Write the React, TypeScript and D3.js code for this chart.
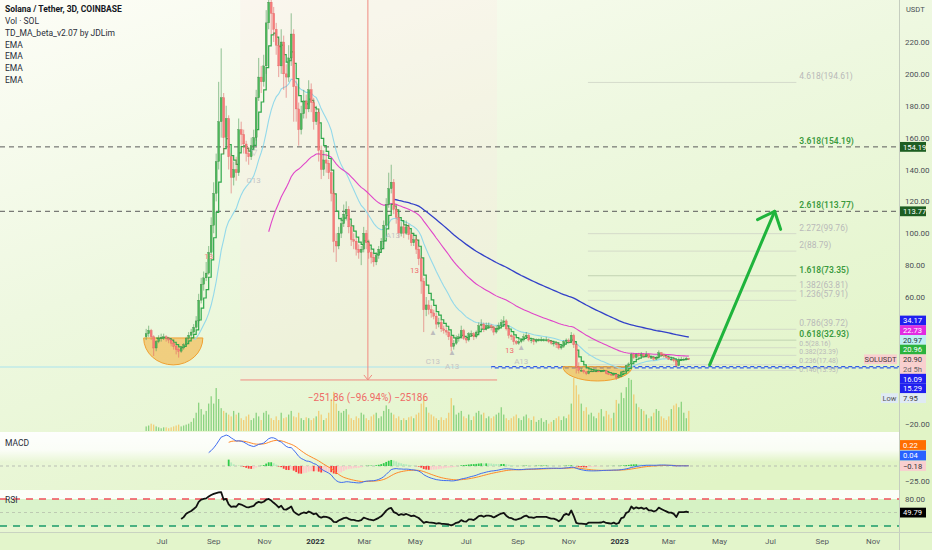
import { useEffect, useRef } from 'react'
import * as d3 from 'd3'

const W = 932
const H = 550
const AXIS_X = 899
const PRICE_BOTTOM = 431
const MACD_BOTTOM = 490
const RSI_BOTTOM = 532
const FONT = 'Roboto, "Noto Sans", sans-serif'

// 3D candles, first bar 2021-06-12
const BAR_START = Date.UTC(2021, 5, 12)
const FIRST_OPEN = 35

const closes = [
  37, 39, 35, 28, 32, 34, 34.5, 35, 34, 33, 31, 29, 27, 26, 28, 30, 34,
  36, 38, 41, 45, 58, 68, 72, 75, 88, 105,
  125, 145, 170, 185, 160, 172, 148, 135, 140, 138,
  165, 162, 156, 150, 148, 155, 160, 185, 198, 195,
  205, 232, 245, 238, 228, 218, 205, 220, 200, 198,
  210, 225, 192, 178, 165, 175, 183, 178, 190, 182, 170,
  176, 152, 140, 146, 144, 138, 125, 95, 92, 100,
  106, 112, 115, 104, 96, 95, 90, 88, 90, 100,
  94, 88, 85, 82, 86, 90, 95, 105, 118, 128,
  132, 115, 110, 100, 104, 100, 104, 99, 94, 96,
  90, 84, 70, 52, 55, 52, 50, 48, 43, 44,
  40, 39, 38, 35, 29, 31, 34, 35, 39, 34,
  33, 37, 37, 35, 38, 42, 43, 40, 42, 42,
  41, 38, 40, 42, 44, 45, 40, 36, 35, 32, 31,
  32, 33, 35, 36, 33, 33, 32, 33, 33, 33,
  33, 33, 32, 31, 31, 30, 28, 29, 32, 33,
  32, 36, 30, 16, 14, 14, 13, 12, 13.5, 13.5,
  13.5, 13.5, 13.4, 13.5, 14, 12, 11.5, 11, 11.5, 9.5,
  10, 13, 13.5, 17, 18, 24, 22, 24, 23, 24, 23,
  24, 22, 22, 21, 22, 25, 24, 23, 22,
  21, 21, 20, 17, 21, 21, 21, 21.5, 20.9,
]

const highs = [
  40, 42, 40, 36, 33, 36, 37, 37, 36, 35, 34, 32, 30, 28, 29, 31, 35,
  38, 40, 43, 48, 62, 72, 76, 82, 92, 110,
  132, 150, 195, 216, 188, 180, 174, 150, 145, 148,
  172, 170, 165, 158, 154, 160, 165, 190, 210, 205,
  212, 240, 260, 252, 242, 232, 222, 228, 224, 206,
  218, 238, 228, 196, 182, 180, 190, 187, 196, 194, 185,
  180, 178, 155, 152, 150, 146, 140, 127, 100, 104,
  110, 118, 120, 117, 106, 100, 97, 93, 92, 104,
  102, 96, 90, 87, 88, 92, 97, 108, 122, 138,
  143, 134, 118, 112, 107, 106, 108, 106, 101, 100,
  98, 92, 86, 72, 60, 58, 55, 52, 50, 47,
  46, 42, 41, 39, 36, 33, 36, 37, 42, 40,
  35, 38, 39, 38, 39, 44, 46, 44, 44, 44,
  43, 42, 42, 44, 46, 48, 46, 41, 37, 36, 33,
  33, 34, 37, 38, 37, 34, 34, 34, 34, 35,
  34, 35, 34, 33, 32, 32, 31, 30, 33, 34,
  34, 38, 37, 31, 19, 15.5, 14.5, 13.5, 14, 14.5,
  14.5, 14, 14, 14, 14.5, 14.2, 12.5, 12, 12, 11.7,
  10.5, 13.5, 14, 17.5, 19, 25, 24.5, 24.5, 25, 25.5, 24.5,
  26, 24.5, 23, 22.5, 23, 26.5, 25.5, 24.5, 23.5,
  22.5, 22, 21.5, 20.5, 22, 22.5, 22, 22.5, 21.8,
]

const lows = [
  33, 35, 33, 23, 26, 31, 32, 33, 32, 31, 29, 27, 24, 22, 25, 27, 29,
  33, 35, 37, 40, 44, 56, 64, 70, 74, 86,
  100, 120, 140, 160, 150, 155, 140, 125, 130, 133,
  136, 155, 150, 145, 143, 146, 152, 158, 183, 188,
  192, 200, 228, 225, 220, 212, 198, 200, 190, 185,
  195, 205, 170, 170, 155, 162, 172, 172, 176, 176, 165,
  168, 145, 134, 136, 138, 134, 120, 88, 82, 90,
  97, 104, 108, 100, 92, 90, 86, 84, 80, 88,
  90, 84, 81, 79, 80, 84, 88, 93, 103, 116,
  125, 112, 106, 97, 98, 97, 99, 96, 92, 92,
  87, 80, 62, 38, 48, 49, 47, 46, 40, 41,
  38, 37, 36, 33, 26, 27, 30, 32, 34, 33,
  31, 32, 35, 33, 34, 37, 40, 38, 39, 40,
  39, 36, 37, 39, 41, 42, 39, 34, 33, 30, 30,
  30, 31, 32, 34, 32, 31, 30, 31, 32, 32,
  32, 32, 31, 30, 29, 28, 27, 27, 28, 31,
  31, 31, 28, 12, 12, 13, 12, 11, 11.5, 13,
  13, 13, 13, 13, 13, 11.5, 11, 10.5, 10.8, 7.95,
  9, 9.8, 12.8, 13.3, 16, 17.8, 21, 21.5, 22.5, 22.5, 22,
  22.5, 21.5, 21.5, 20, 20.5, 21.5, 23, 22, 21.5,
  20.5, 20, 19, 16, 16.5, 20.5, 20, 20.5, 20.5,
]

const volumes = [
  5, 6, 8, 7, 5, 4, 3, 4, 4, 3, 4, 5, 6, 7, 5, 6, 7,
  8, 10, 14, 20, 31, 24, 18, 22, 30, 38,
  30, 47, 35, 25, 22, 20, 18, 16, 22, 18,
  20, 14, 12, 16, 18, 12, 14, 20, 16, 12,
  20, 22, 18, 14, 12, 16, 12, 20, 14, 15,
  18, 22, 16, 15, 20, 14, 12, 15, 14, 12, 14,
  16, 22, 18, 12, 14, 20, 35, 43, 30, 22,
  20, 22, 24, 18, 14, 12, 16, 14, 20, 18,
  14, 12, 16, 18, 20, 14, 16, 22, 28, 24,
  20, 18, 14, 16, 12, 14, 12, 15, 16, 14,
  18, 20, 30, 38, 26, 20, 18, 16, 14, 12,
  15, 12, 14, 20, 36, 28, 18, 20, 22, 16,
  14, 18, 12, 16, 20, 22, 18, 20, 14, 16,
  14, 16, 18, 20, 26, 18, 14, 12, 14, 16, 18,
  14, 12, 16, 18, 14, 12, 16, 10, 12, 14,
  10, 12, 8, 10, 12, 14, 16, 12, 16, 14,
  18, 30, 58, 50, 40, 30, 22, 26, 18, 20,
  16, 14, 20, 24, 16, 22, 18, 14, 20, 34,
  30, 42, 36, 48, 58, 56, 40, 30, 26, 24, 22,
  18, 14, 16, 20, 24, 22, 16, 14, 12,
  16, 24, 28, 30, 26, 32, 20, 14, 22,
]

const priceTicks = [220, 200, 180, 160, 140, 120, 100, 80, 60]

const fibLevels = ['4.618', '3.618', '2.618', '2.272', '2', '1.618', '1.382', '1.236', '0.786', '0.618', '0.5', '0.382', '0.236', '0.146']
const fibPrices = [194.61, 154.19, 113.77, 99.76, 88.79, 73.35, 63.81, 57.91, 39.72, 32.93, 28.16, 23.39, 17.48, 13.93]
const fibGreen = ['3.618', '2.618', '1.618', '0.618']
const fibSpan = ['2022-11-24', '2023-08-01']

const dashedLevels = [154.19, 113.77]

// measurement tool: start, arrow, end dates; high and low price
const measureDates = ['2021-10-03', '2022-03-05', '2022-08-07']
const measurePrices = [259.81, 7.95]
const measureText = '\u2212251.86 (\u221296.94%) \u221225186'

const arrowFrom = { date: '2023-04-19', price: 17.4 }
const arrowTo = { date: '2023-07-06', price: 113.77 }

const bowls = [
  { from: '2021-06-09', to: '2021-08-19', top: 34.3, bottom: 17.4 },
  { from: '2022-10-25', to: '2023-01-16', top: 16.3, bottom: 7.3 },
]

const supportSplit = '2022-07-31'
const supportLevels = [16.09, 15.29]

const tdMarks = [
  { date: '2021-08-26', price: 84, text: '13', color: '#f08080' },
  { date: '2021-10-19', price: 149, text: '\u25BD', color: '#bdbdbd' },
  { date: '2021-10-19', price: 131.5, text: 'C13', color: '#c4c4c4' },
  { date: '2022-04-04', price: 97, text: 'A13', color: '#c4c4c4' },
  { date: '2022-04-30', price: 75, text: '13', color: '#f07070' },
  { date: '2022-05-22', price: 36, text: '\u25B2', color: '#bdbdbd' },
  { date: '2022-05-22', price: 18, text: 'C13', color: '#c4c4c4' },
  { date: '2022-06-14', price: 23.6, text: '\u25B2', color: '#bdbdbd' },
  { date: '2022-06-14', price: 14.9, text: 'A13', color: '#c4c4c4' },
  { date: '2022-08-22', price: 25, text: '13', color: '#f07070' },
  { date: '2022-09-05', price: 26.8, text: '\u25B2', color: '#bdbdbd' },
  { date: '2022-09-05', price: 18, text: 'A13', color: '#c4c4c4' },
]

const legendLines = ['Vol \u00B7 SOL', 'TD_MA_beta_v2.07 by JDLim', 'EMA', 'EMA', 'EMA', 'EMA']

const priceTags = [
  { text: '34.17', bg: '#1f1ff0', fg: '#ffffff' },
  { text: '22.73', bg: '#e22ce2', fg: '#ffffff' },
  { text: '20.97', bg: '#bfeef2', fg: '#20383c' },
  { text: '20.96', bg: '#2bb33d', fg: '#ffffff' },
  { text: '20.90', bg: '#f9cfcf', fg: '#333333' },
  { text: '2d 5h', bg: '#f9cfcf', fg: '#666666' },
  { text: '16.09', bg: '#1f1ff0', fg: '#ffffff' },
  { text: '15.29', bg: '#1f1ff0', fg: '#ffffff' },
  { text: '7.95', bg: '#dfeaf4', fg: '#333333' },
]
const lastPrice = 20.9
const macdTags = [
  { text: '0.22', bg: '#ff6d00', fg: '#ffffff' },
  { text: '0.04', bg: '#2962ff', fg: '#ffffff' },
  { text: '\u22120.18', bg: '#f9cfcf', fg: '#333333' },
]
const rsiLast = 49.79

const day = (s: string) => new Date(s + 'T00:00:00Z')

function ema(values: number[], n: number): (number | null)[] {
  const out: (number | null)[] = []
  const k = 2 / (n + 1)
  let prev: number | null = null
  values.forEach((v, i) => {
    if (i < n - 1) { out.push(null); return }
    if (prev === null) prev = d3.mean(values.slice(i - n + 1, i + 1)) as number
    else prev = v * k + prev * (1 - k)
    out.push(prev)
  })
  return out
}

function emaSparse(values: (number | null)[], n: number): (number | null)[] {
  const start = values.findIndex(v => v !== null)
  const tail = ema(values.slice(start) as number[], n)
  return values.slice(0, start).map(() => null as number | null).concat(tail)
}

function rsi(values: number[], n: number): (number | null)[] {
  const out: (number | null)[] = [null]
  let ag = 0, al = 0
  for (let i = 1; i < values.length; i++) {
    const ch = values[i] - values[i - 1]
    const g = Math.max(ch, 0), l = Math.max(-ch, 0)
    if (i <= n) {
      ag += g / n; al += l / n
      out.push(i === n ? 100 - 100 / (1 + ag / (al || 1e-9)) : null)
    } else {
      ag = (ag * (n - 1) + g) / n
      al = (al * (n - 1) + l) / n
      out.push(100 - 100 / (1 + ag / (al || 1e-9)))
    }
  }
  return out
}

export default function App() {
  const svgRef = useRef<SVGSVGElement>(null)

  useEffect(() => {
    if (!svgRef.current) return
    const svg = d3.select(svgRef.current)
    svg.selectAll('*').remove()

    const dates = closes.map((_, i) => new Date(BAR_START + i * 3 * 864e5))
    const opens = closes.map((_, i) => (i === 0 ? FIRST_OPEN : closes[i - 1]))

    const x = d3.scaleUtc().domain([day('2021-07-01'), day('2023-11-01')]).range([162, 873])
    const y = d3.scaleLinear().domain([60, 220]).range([297, 42])
    const volY = d3.scaleLinear().domain([0, 58]).range([PRICE_BOTTOM, 378])
    const rsiY = d3.scaleLinear().domain([20, 80]).range([526, 499])

    const defs = svg.append('defs')
    const bg = defs.append('linearGradient').attr('id', 'bg')
      .attr('x1', 0).attr('y1', 0).attr('x2', 0.55).attr('y2', 1)
    bg.append('stop').attr('offset', 0).attr('stop-color', '#fdfdf7')
    bg.append('stop').attr('offset', 0.45).attr('stop-color', '#eef8e0')
    bg.append('stop').attr('offset', 1).attr('stop-color', '#e1f4c6')
    const fade = defs.append('linearGradient').attr('id', 'fade')
      .attr('x1', 0).attr('y1', 0).attr('x2', 0).attr('y2', 1)
    fade.append('stop').attr('offset', 0).attr('stop-color', '#ffffff').attr('stop-opacity', 0.95)
    fade.append('stop').attr('offset', 0.6).attr('stop-color', '#ffffff').attr('stop-opacity', 0.8)
    fade.append('stop').attr('offset', 1).attr('stop-color', '#ffffff').attr('stop-opacity', 0)
    defs.append('clipPath').attr('id', 'pricePane')
      .append('rect').attr('x', 0).attr('y', 0).attr('width', AXIS_X).attr('height', PRICE_BOTTOM)
    defs.append('clipPath').attr('id', 'macdPane')
      .append('rect').attr('x', 0).attr('y', PRICE_BOTTOM).attr('width', AXIS_X).attr('height', MACD_BOTTOM - PRICE_BOTTOM)

    // backgrounds
    svg.append('rect').attr('width', W).attr('height', H).attr('fill', 'url(#bg)')
    svg.append('rect').attr('x', 0).attr('y', RSI_BOTTOM).attr('width', W).attr('height', H - RSI_BOTTOM).attr('fill', '#e3f5cb')
    svg.append('rect')
      .attr('x', x(day(measureDates[0]))).attr('y', 0)
      .attr('width', x(day(measureDates[2])) - x(day(measureDates[0])))
      .attr('height', y(measurePrices[1]))
      .attr('fill', '#ffe4e4').attr('opacity', 0.22)
    svg.append('rect').attr('x', 0).attr('y', PRICE_BOTTOM + 1).attr('width', AXIS_X).attr('height', 30).attr('fill', 'url(#fade)')
    svg.append('rect').attr('x', 0).attr('y', MACD_BOTTOM).attr('width', AXIS_X).attr('height', 9).attr('fill', '#ffffff').attr('opacity', 0.85)
    svg.append('rect').attr('x', 0).attr('y', rsiY(80)).attr('width', AXIS_X).attr('height', rsiY(20) - rsiY(80))
      .attr('fill', '#c9f0c0').attr('opacity', 0.45)

    const price = svg.append('g').attr('clip-path', 'url(#pricePane)')

    // user horizontal lines
    dashedLevels.forEach(p => {
      price.append('line').attr('x1', 0).attr('x2', AXIS_X).attr('y1', y(p)).attr('y2', y(p))
        .attr('stroke', '#5a5a5a').attr('stroke-width', 1).attr('stroke-dasharray', '5,4')
    })
    price.append('line').attr('x1', 0).attr('x2', x(day(supportSplit)))
      .attr('y1', y(supportLevels[0])).attr('y2', y(supportLevels[0]))
      .attr('stroke', '#a9e4ee').attr('stroke-width', 1.2)
    supportLevels.forEach((p, k) => {
      price.append('line').attr('x1', x(day(supportSplit))).attr('x2', AXIS_X)
        .attr('y1', y(p) - 0.4).attr('y2', y(p) - 0.4)
        .attr('stroke', '#2f5be8').attr('stroke-width', 1.2)
        .attr('stroke-dasharray', '4,3').attr('stroke-dashoffset', k * 3.5)
    })

    // fib extension
    const fx0 = x(day(fibSpan[0])), fx1 = x(day(fibSpan[1]))
    fibPrices.forEach((p, k) => {
      const green = fibGreen.includes(fibLevels[k])
      if (!dashedLevels.includes(p)) {
        price.append('line').attr('x1', fx0).attr('x2', fx1).attr('y1', y(p)).attr('y2', y(p))
          .attr('stroke', green ? '#b9c9a9' : '#cfd4c6').attr('stroke-width', 0.8)
      }
      const small = p < 30
      const last = k === fibPrices.length - 1
      price.append('text').attr('x', fx1 + 3).attr('y', last ? y(p) + 1.5 : y(p) - (small ? 1.5 : 3))
        .attr('font-family', FONT).attr('font-size', small ? 6.8 : 8.5)
        .attr('font-weight', green ? 600 : 400)
        .attr('fill', green ? '#3b9a3e' : '#b9b9b9')
        .text(`${fibLevels[k]}(${p.toFixed(2)})`)
    })

    // measurement tool
    const mx = measureDates.map(d => x(day(d)))
    const mBottom = y(measurePrices[1])
    price.append('line').attr('x1', mx[0]).attr('x2', mx[2]).attr('y1', mBottom).attr('y2', mBottom)
      .attr('stroke', '#f08a80').attr('stroke-width', 1)
    price.append('line').attr('x1', mx[1]).attr('x2', mx[1]).attr('y1', y(measurePrices[0])).attr('y2', mBottom)
      .attr('stroke', '#f08a80').attr('stroke-width', 1)
    price.append('path')
      .attr('d', `M${mx[1] - 4},${mBottom - 5} L${mx[1]},${mBottom} L${mx[1] + 4},${mBottom - 5}`)
      .attr('fill', 'none').attr('stroke', '#f08a80').attr('stroke-width', 1)

    // orange bowls
    bowls.forEach(b => {
      const x0 = x(day(b.from)), x1 = x(day(b.to))
      const yt = y(b.top), yb = y(b.bottom)
      price.append('path')
        .attr('d', `M${x0},${yt} A${(x1 - x0) / 2},${yb - yt} 0 0 0 ${x1},${yt} Z`)
        .attr('fill', '#f5a623').attr('fill-opacity', 0.5)
        .attr('stroke', '#f0a030').attr('stroke-width', 1)
    })

    // volume
    price.append('g').selectAll('rect').data(volumes).join('rect')
      .attr('x', (_, i) => x(dates[i]) - 0.6).attr('width', 1.2)
      .attr('y', v => volY(v)).attr('height', v => PRICE_BOTTOM - volY(v))
      .attr('fill', (_, i) => (closes[i] >= opens[i] ? '#72c96a' : '#f3c35e'))
      .attr('opacity', 0.85)

    // moving averages
    const lineOf = (vals: (number | null)[]) => d3.line<number | null>()
      .defined(v => v !== null)
      .x((_, i) => x(dates[i]))
      .y(v => y(v as number))(vals)
    const ema20 = ema(closes, 20)
    const ema50 = ema(closes, 50)
    const ema100 = ema(closes, 100)
    const tdma = ema(closes, 5)
    price.append('path').attr('d', lineOf(ema20)).attr('fill', 'none').attr('stroke', '#93d9ea').attr('stroke-width', 1.1)
    price.append('path').attr('d', lineOf(ema50)).attr('fill', 'none').attr('stroke', '#e045c9').attr('stroke-width', 1.1)
    price.append('path').attr('d', lineOf(ema100)).attr('fill', 'none').attr('stroke', '#3240c8').attr('stroke-width', 1.3)
    const step = d3.line<number | null>()
      .defined(v => v !== null)
      .x((_, i) => x(dates[i]))
      .y(v => y(v as number))
      .curve(d3.curveStepAfter)
    price.append('path').attr('d', step(tdma)).attr('fill', 'none').attr('stroke', '#2ea84a').attr('stroke-width', 1.2)

    // candles
    const candles = price.append('g')
    closes.forEach((c, i) => {
      const o = opens[i]
      const up = c >= o
      const cx = x(dates[i])
      const hi = Math.max(highs[i], o, c), lo = Math.min(lows[i], o, c)
      candles.append('line').attr('x1', cx).attr('x2', cx).attr('y1', y(hi)).attr('y2', y(lo))
        .attr('stroke', up ? '#4a9a55' : '#e06666').attr('stroke-width', 0.6)
      const top = y(Math.max(o, c)), bot = y(Math.min(o, c))
      candles.append('rect').attr('x', cx - 0.95).attr('width', 1.9)
        .attr('y', top).attr('height', Math.max(0.8, bot - top))
        .attr('fill', up ? '#4cb85a' : '#f77b7b')
        .attr('stroke', up ? '#2f7d3a' : '#de5a5a').attr('stroke-width', 0.3)
    })

    // TD sequential marks
    tdMarks.forEach(m => {
      price.append('text').attr('x', x(day(m.date))).attr('y', y(m.price))
        .attr('text-anchor', 'middle').attr('font-family', FONT).attr('font-size', 8)
        .attr('fill', m.color).text(m.text)
    })

    // target arrow
    const ax0 = x(day(arrowFrom.date)), ay0 = y(arrowFrom.price)
    const ax1 = x(day(arrowTo.date)), ay1 = y(arrowTo.price)
    const ang = Math.atan2(ay0 - ay1, ax0 - ax1)
    const wing = (a: number) => `${ax1 + 19 * Math.cos(ang + a)},${ay1 + 19 * Math.sin(ang + a)}`
    price.append('line').attr('x1', ax0).attr('y1', ay0).attr('x2', ax1).attr('y2', ay1)
      .attr('stroke', '#1fb43c').attr('stroke-width', 3).attr('stroke-linecap', 'round')
    price.append('path').attr('d', `M${wing(0.72)} L${ax1},${ay1} L${wing(-0.72)}`)
      .attr('fill', 'none').attr('stroke', '#1fb43c').attr('stroke-width', 3)
      .attr('stroke-linecap', 'round').attr('stroke-linejoin', 'round')

    svg.append('text').attr('x', mx[1]).attr('y', mBottom + 21).attr('text-anchor', 'middle')
      .attr('font-family', FONT).attr('font-size', 10).attr('fill', '#ef6a66').text(measureText)

    // MACD
    const e12 = ema(closes, 12), e26 = ema(closes, 26)
    const macd = closes.map((_, i) => (e26[i] !== null && e12[i] !== null ? (e12[i] as number) - (e26[i] as number) : null))
    const signal = emaSparse(macd, 9)
    const hist = macd.map((m, i) => (m !== null && signal[i] !== null ? m - (signal[i] as number) : null))
    const macdMax = d3.max(macd.filter(v => v !== null) as number[]) as number
    const macdY = d3.scaleLinear().domain([0, macdMax]).range([466, 435])
    const mg = svg.append('g').attr('clip-path', 'url(#macdPane)')
    mg.append('line').attr('x1', 0).attr('x2', AXIS_X).attr('y1', macdY(0)).attr('y2', macdY(0))
      .attr('stroke', '#a8a8a8').attr('stroke-width', 0.7).attr('stroke-dasharray', '3,3')
    hist.forEach((h, i) => {
      if (h === null) return
      const prev = hist[i - 1] ?? h
      const color = h >= 0 ? (h >= prev ? '#2fcc4a' : '#b2ecbb') : (h <= prev ? '#ff3b3b' : '#ffc9cc')
      mg.append('rect').attr('x', x(dates[i]) - 0.9).attr('width', 1.8)
        .attr('y', Math.min(macdY(h), macdY(0))).attr('height', Math.abs(macdY(h) - macdY(0)))
        .attr('fill', color)
    })
    const macdLine = d3.line<number | null>().defined(v => v !== null)
      .x((_, i) => x(dates[i])).y(v => macdY(v as number))
    mg.append('path').attr('d', macdLine(signal)).attr('fill', 'none').attr('stroke', '#ff8a2a').attr('stroke-width', 1)
    mg.append('path').attr('d', macdLine(macd)).attr('fill', 'none').attr('stroke', '#3f6cf0').attr('stroke-width', 1)

    // RSI
    const rsiVals = rsi(closes, 14)
    svg.append('line').attr('x1', 0).attr('x2', AXIS_X).attr('y1', rsiY(80)).attr('y2', rsiY(80))
      .attr('stroke', '#f0505a').attr('stroke-width', 1.6).attr('stroke-dasharray', '7,6')
    svg.append('line').attr('x1', 0).attr('x2', AXIS_X).attr('y1', rsiY(50)).attr('y2', rsiY(50))
      .attr('stroke', '#b0b8a8').attr('stroke-width', 0.7).attr('stroke-dasharray', '3,3')
    svg.append('line').attr('x1', 0).attr('x2', AXIS_X).attr('y1', rsiY(20)).attr('y2', rsiY(20))
      .attr('stroke', '#1a9a6a').attr('stroke-width', 1.6).attr('stroke-dasharray', '7,6')
    svg.append('path').attr('d', d3.line<number | null>().defined(v => v !== null)
      .x((_, i) => x(dates[i])).y(v => rsiY(v as number))(rsiVals))
      .attr('fill', 'none').attr('stroke', '#111').attr('stroke-width', 1.8).attr('stroke-linejoin', 'round')

    // separators
    svg.append('line').attr('x1', AXIS_X + 0.5).attr('x2', AXIS_X + 0.5).attr('y1', 0).attr('y2', H)
      .attr('stroke', '#c5cdbf').attr('stroke-width', 1)
    svg.append('line').attr('x1', 0).attr('x2', W).attr('y1', RSI_BOTTOM + 0.5).attr('y2', RSI_BOTTOM + 0.5)
      .attr('stroke', '#c9d3c1').attr('stroke-width', 1)

    const txt = (tx: number, ty: number, s: string, size = 8, fill = '#4a4f55', weight = 400, anchor = 'start') =>
      svg.append('text').attr('x', tx).attr('y', ty).attr('font-family', FONT).attr('font-size', size)
        .attr('fill', fill).attr('font-weight', weight).attr('text-anchor', anchor).text(s)
    const tag = (ty: number, s: string, bgc: string, fg: string, x0 = AXIS_X + 1, w = 26) => {
      svg.append('rect').attr('x', x0).attr('y', ty - 4.9).attr('width', w).attr('height', 9.8).attr('fill', bgc)
      txt(x0 + 3, ty + 2.8, s, 7.6, fg)
    }

    // right price axis
    txt(906, 12, 'USDT', 7.5, '#4a4f55')
    priceTicks.forEach(v => txt(905, y(v) + 3, v.toFixed(2)))
    dashedLevels.forEach(p => tag(y(p), p.toFixed(2), '#1d5e22', '#ffffff'))
    const anchor = y(lastPrice)
    priceTags.forEach((t, k) => tag(anchor + (k - 4) * 9.7, t.text, t.bg, t.fg))
    svg.append('rect').attr('x', 864).attr('y', anchor - 4.9).attr('width', 33).attr('height', 9.8).attr('fill', '#f9cfcf')
    txt(880.5, anchor + 3, 'SOLUSDT', 7.5, '#4a3a3a', 400, 'middle')
    const lowY = anchor + 4 * 9.7
    svg.append('rect').attr('x', 881).attr('y', lowY - 4.9).attr('width', 17).attr('height', 9.8).attr('fill', '#dfeaf4')
    txt(889.5, lowY + 3, 'Low', 7.5, '#555', 400, 'middle')
    txt(905, 427, '\u221220.00')
    const mz = macdY(0)
    macdTags.forEach((t, k) => tag(mz - (2 - k) * 10.5, t.text, t.bg, t.fg))
    txt(905, 484, '\u221225.00')
    txt(905, rsiY(80) + 3, '80.00')
    tag(rsiY(rsiLast), rsiLast.toFixed(2), '#000000', '#ffffff')

    // time axis
    const ticks = d3.utcMonth.every(2)!.range(day('2021-07-01'), day('2023-11-02'))
    ticks.forEach(t => {
      const isYear = t.getUTCMonth() === 0
      txt(x(t), 544, isYear ? d3.utcFormat('%Y')(t) : d3.utcFormat('%b')(t), 8, isYear ? '#2f343a' : '#555a60', isYear ? 700 : 400, 'middle')
    })

    // legends
    txt(5, 12, 'Solana / Tether, 3D, COINBASE', 8.5, '#131722', 700)
    legendLines.forEach((s, k) => txt(5, 24 + k * 11.8, s, 8.5, '#2a2e39'))
    txt(5, 446, 'MACD', 8.5, '#2a2e39')
    txt(5, 503, 'RSI', 8.5, '#2a2e39')
  }, [])

  return (
    <svg
      ref={svgRef}
      width={W}
      height={H}
      style={{ position: 'absolute', left: 0, top: 0, display: 'block' }}
    />
  )
}
